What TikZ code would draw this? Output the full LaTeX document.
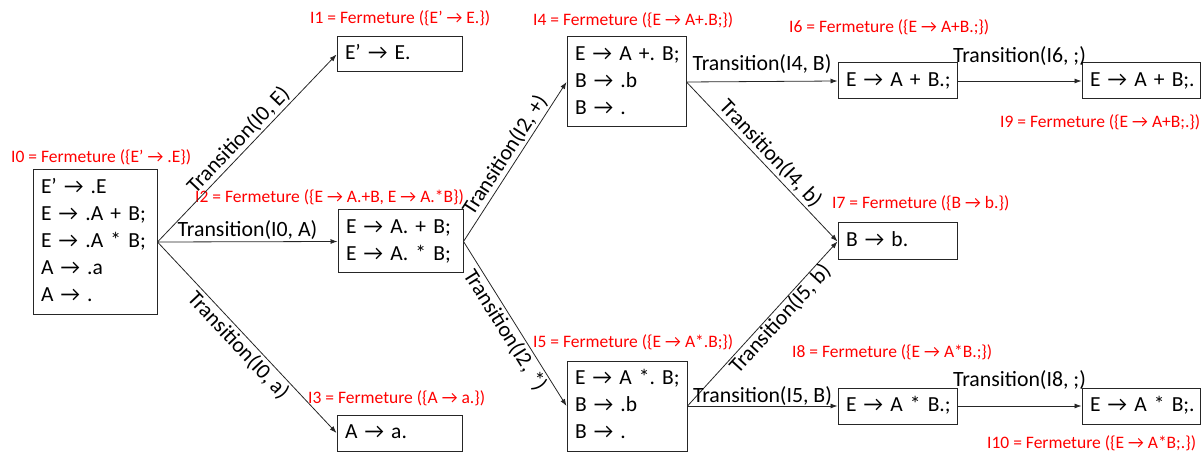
\documentclass[tikz,border=0pt]{standalone}
\usepackage{fontspec}
\setmainfont{Carlito}
\usetikzlibrary{arrows.meta}
\frenchspacing
\newcommand\boxfont{\fontsize{21.5}{27}\selectfont}
\newcommand\trfont{\fontsize{21.8}{25}\selectfont}
\newcommand\redfont{\fontsize{17.5}{20}\selectfont}
\newcommand\lines[1]{\begin{tabular}{@{}l@{}}#1\end{tabular}}
\tikzset{
  state/.style={draw=black!85, line width=1pt, align=left, inner xsep=8pt, inner ysep=0pt, text width=#1, font=\boxfont},
  conn/.style={draw=black!85, line width=0.8pt, -{Latex[length=7pt,width=5pt]}},
  tr/.style={font=\trfont, inner sep=2pt},
  clo/.style={text=red, font=\redfont, anchor=west, inner sep=0pt},
}
\begin{document}
\frenchspacing
\begin{tikzpicture}[x=1pt,y=-1pt]
\useasboundingbox (0,0) rectangle (1204,454);
% states
\node[state={108pt}, minimum height=144pt] (I0) at (95,242) {\lines{E’ → .E\\E → .A + B;\\E → .A * B;\\A → .a\\A → .}};
\node[state={109pt}, minimum height=35pt] (I1) at (399.5,54.5) {\lines{E’ → E.}};
\node[state={109pt}, minimum height=63pt] (I2) at (400.5,241.5) {\lines{E → A. + B;\\E → A. * B;}};
\node[state={109pt}, minimum height=36pt] (I3) at (399.5,433) {\lines{A → a.}};
\node[state={103pt}, minimum height=90pt] (I4) at (626.5,82) {\lines{E → A +. B;\\B → .b\\B → .}};
\node[state={104pt}, minimum height=90pt] (I5) at (627,406) {\lines{E → A *. B;\\B → .b\\B → .}};
\node[state={103pt}, minimum height=36pt] (I6) at (897.5,81) {\lines{E → A + B.;}};
\node[state={102pt}, minimum height=36pt] (I9) at (1141,81) {\lines{E → A + B;.}};
\node[state={103pt}, minimum height=37pt] (I7) at (897.5,241.5) {\lines{B → b.}};
\node[state={103pt}, minimum height=36pt] (I8) at (897.5,406) {\lines{E → A * B.;}};
\node[state={102pt}, minimum height=36pt] (I10) at (1141,406) {\lines{E → A * B;.}};
% closure labels
\node[clo] (L0) at (11,157) {I0 = Fermeture (\{E’ → .E\})};
\node[clo] (L1) at (310,18) {I1 = Fermeture (\{E’ → E.\})};
\node[clo] (L2) at (195,197) {I2 = Fermeture (\{E → A.+B, E → A.*B\})};
\node[clo] (L3) at (308,398) {I3 = Fermeture (\{A → a.\})};
\node[clo] (L4) at (533,20) {I4 = Fermeture (\{E → A+.B;\})};
\node[clo] (L5) at (533,342) {I5 = Fermeture (\{E → A*.B;\})};
\node[clo] (L6) at (789,27) {I6 = Fermeture (\{E → A+B.;\})};
\node[clo] (L7) at (832,203) {I7 = Fermeture (\{B → b.\})};
\node[clo] (L8) at (792,352) {I8 = Fermeture (\{E → A*B.;\})};
\node[clo] (L9) at (1000,122) {I9 = Fermeture (\{E → A+B;.\})};
\node[clo] (L10) at (987,443) {I10 = Fermeture (\{E → A*B;.\})};
% transitions
\draw[conn] (I0.east) -- (I1.west) node[tr, midway, sloped, above] {Transition(I0, E)};
\draw[conn] (I0.east) -- (I2.west) node[tr, midway, above] {Transition(I0, A)};
\draw[conn] (I0.east) -- (I3.west) node[tr, midway, sloped, below] {Transition(I0, a)};
\draw[conn] (I2.east) -- (I4.west) node[tr, midway, sloped, above] {Transition(I2, +)};
\draw[conn] (I2.east) -- (I5.west) node[tr, midway, sloped, below] {Transition(I2, *)};
\draw[conn] (I4.east) -- (I6.west) node[tr, midway, above, yshift=6pt] {Transition(I4, B)};
\draw[conn] (I6.east) -- (I9.west) node[tr, midway, above, yshift=13pt] {Transition(I6, ;)};
\draw[conn] (I4.east) -- (I7.west) node[tr, midway, sloped, above] {Transition(I4, b)};
\draw[conn] (I5.east) -- (I7.west) node[tr, pos=0.57, sloped, below, inner sep=0pt] {Transition(I5, b)};
\draw[conn] (I5.east) -- (I8.west) node[tr, midway, above, yshift=-2pt] {Transition(I5, B)};
\draw[conn] (I8.east) -- (I10.west) node[tr, midway, above, yshift=14pt] {Transition(I8, ;)};
\end{tikzpicture}
\end{document}
